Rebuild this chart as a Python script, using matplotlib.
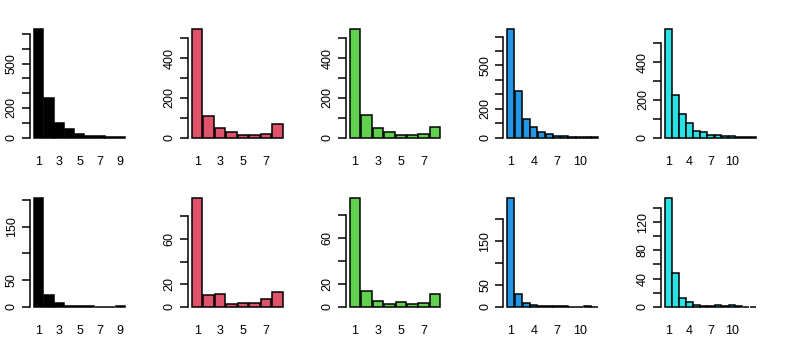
import matplotlib.pyplot as plt
import numpy as np

plt.rcParams['font.family'] = ['Liberation Sans', 'DejaVu Sans']

# R 4.x default palette, colours 1..5
colors = ["#000000", "#DF536B", "#61D04F", "#2297E6", "#28E2E5"]

# counts per category, top row
top_1 = [732, 266, 95, 58, 23, 9, 7, 4, 3]
top_2 = [545, 109, 47, 30, 15, 13, 18, 69]
top_3 = [545, 112, 50, 27, 12, 13, 18, 55]
top_4 = [750, 323, 129, 72, 37, 21, 9, 8, 5, 4, 3, 2]
top_5 = [574, 224, 125, 76, 34, 28, 14, 11, 9, 9, 5, 4, 5]

# counts per category, bottom row
bottom_1 = [203, 22, 6, 1, 1, 1, 0, 0, 1]
bottom_2 = [96, 10, 11, 2, 3, 3, 7, 13]
bottom_3 = [95, 14, 5, 2, 4, 2, 3, 11]
bottom_4 = [248, 30, 9, 5, 1, 1, 2, 1, 0, 0, 1, 0]
bottom_5 = [154, 48, 12, 6, 3, 1, 1, 3, 1, 2, 1, 0, 0]

# y axis: last tick, tick step, ticks that carry a label (R drops crowded ones)
top_yaxis = [(700, 100, [0, 200, 500]), (500, 100, [0, 200, 400]),
             (500, 100, [0, 200, 400]), (700, 100, [0, 200, 500]),
             (500, 100, [0, 200, 400])]
bottom_yaxis = [(200, 50, [0, 50, 150]), (80, 20, [0, 20, 60]),
                (80, 20, [0, 20, 60]), (200, 50, [0, 50, 150]),
                (140, 20, [0, 40, 80, 120])]

# category labels that are printed under the bars
xlabels_9 = [1, 3, 5, 7, 9]
xlabels_8 = [1, 3, 5, 7]
xlabels_long = [1, 4, 7, 10]

rows = [
    ([top_1, top_2, top_3, top_4, top_5], top_yaxis, 29.3, 137.5),
    ([bottom_1, bottom_2, bottom_3, bottom_4, bottom_5], bottom_yaxis, 198.3, 306.7),
]

W, H = 789, 338
fig = plt.figure(figsize=(W / 100, H / 100), dpi=100)

for panels, yaxes, y_top, y_bot in rows:
    for col in range(5):
        counts = panels[col]
        top, step, shown = yaxes[col]
        n = len(counts)
        left = 30 + 157.8 * col
        ax = fig.add_axes([left / W, 1 - y_bot / H, 99 / W, (y_bot - y_top) / H])

        x = np.arange(1, n + 1)
        ax.bar(x, counts, width=0.92, color=colors[col], edgecolor='black',
               linewidth=1.1, clip_on=False)
        ax.set_xlim(0.5 - 0.04 * n, n + 0.5 + 0.04 * n)
        ax.set_ylim(0, max(counts))

        for s in ['top', 'right', 'bottom']:
            ax.spines[s].set_visible(False)
        ax.spines['left'].set_bounds(0, top)
        ax.spines['left'].set_linewidth(1.1)

        yt = np.arange(0, top + 1, step)
        ax.set_yticks(yt, [str(v) if v in shown else '' for v in yt])
        ax.tick_params(axis='y', length=5.8, width=1.1, labelsize=9,
                       labelrotation=90, pad=3)
        for lab in ax.get_yticklabels():
            lab.set_va('center')

        if n == 9:
            xl = xlabels_9
        elif n == 8:
            xl = xlabels_8
        else:
            xl = xlabels_long
        ax.set_xticks(xl, [str(v) for v in xl])
        ax.tick_params(axis='x', length=0, labelsize=9, pad=13)

plt.savefig("out.png", dpi=100)
